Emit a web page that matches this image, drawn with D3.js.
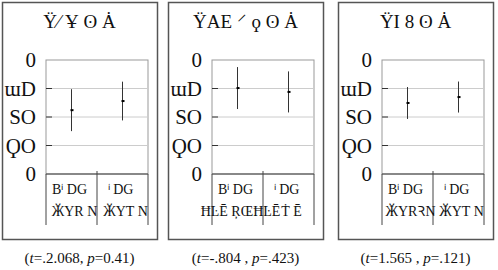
<!DOCTYPE html>
<html>
<head>
<style>
  body { margin: 0; background: #fff; }
  text { font-family: "Liberation Serif", serif; fill: #111; }
</style>
</head>
<body>
<svg id="chart"></svg>
<script src="https://cdn.jsdelivr.net/npm/d3@7"></script>
<script>
  const WIDTH = 498
  const HEIGHT = 270

  // data
  const titles = ["Ÿ⁄ Ұ ʘ Ȧ", "ŸΑE ⸍ ϙ ʘ Ȧ", "ŸI 8 ʘ Ȧ"]
  const groupTop = ["Bⁱ DG", "ⁱ DG"]
  const groupBottom = [["ӁYR N", "ӁYT N"], ["ĦĿĒ ŖŒĦĿĒ", "Ṫ Ē"], ["ӁYRꝚN", "ӁYT N"]]
  const yTicks = [0, 25, 50, 75, 100]
  const yTickLabels = ["0", "ϘO", "SO", "ɯD", "0"]
  const means = [[56, 64], [75.4, 72], [62.3, 67.5]]
  const errs = [[18.4, 17], [18.4, 18], [14, 13.6]]
  const stats = [["2.068", "0.41", "."], ["-.804 ", ".423", ""], ["1.565 ", ".121", ""]]

  const svg = d3.select('#chart').attr('width', WIDTH).attr('height', HEIGHT)

  const boxX = [2, 168, 338]
  const boxW = 155
  const plotL = 44, plotW = 102
  const plotTop = 60, plotBottom = 174

  const y = d3.scaleLinear().domain([0, 100]).range([plotBottom, plotTop])

  titles.forEach(function(title, i) {
    let g = svg.append('g').attr('transform', 'translate(' + boxX[i] + ',0)')

    // outer frame
    g.append('rect')
      .attr('x', 0.5).attr('y', 2.5)
      .attr('width', boxW).attr('height', 237)
      .attr('fill', 'none').attr('stroke', '#555').attr('stroke-width', 1.5)

    g.append('text')
      .attr('x', boxW / 2).attr('y', 28)
      .attr('text-anchor', 'middle')
      .style('font-size', '19px')
      .text(title)

    let x = d3.scaleBand().domain([0, 1]).range([plotL, plotL + plotW])

    // plot frame and grid
    g.append('rect')
      .attr('x', plotL).attr('y', plotTop)
      .attr('width', plotW).attr('height', plotBottom - plotTop)
      .attr('fill', 'none').attr('stroke', '#999')
    g.selectAll('.grid')
      .data(yTicks.slice(1, 4))
      .enter().append('line')
      .attr('x1', plotL).attr('x2', plotL + plotW)
      .attr('y1', d => y(d)).attr('y2', d => y(d))
      .attr('stroke', '#ccc')
    g.selectAll('.tick')
      .data(yTicks.slice(1, 4))
      .enter().append('line')
      .attr('x1', plotL).attr('x2', plotL + 6)
      .attr('y1', d => y(d)).attr('y2', d => y(d))
      .attr('stroke', '#333')
    g.selectAll('.ylab')
      .data(yTicks)
      .enter().append('text')
      .attr('x', 34).attr('y', d => y(d) + 7)
      .attr('text-anchor', 'end')
      .style('font-size', '21px')
      .text((d, k) => yTickLabels[k])

    // x axis + category separators
    g.append('line')
      .attr('x1', plotL).attr('x2', plotL + plotW)
      .attr('y1', plotBottom).attr('y2', plotBottom)
      .attr('stroke', '#444')
    g.selectAll('.sep')
      .data([0, 1, 2])
      .enter().append('line')
      .attr('x1', d => plotL + d * plotW / 2).attr('x2', d => plotL + d * plotW / 2)
      .attr('y1', d => d == 1 ? plotBottom - 3 : plotBottom)
      .attr('y2', 225)
      .attr('stroke', '#444')

    g.selectAll('.cat1')
      .data(groupTop)
      .enter().append('text')
      .attr('x', (d, k) => x(k) + x.bandwidth() / 2 - 2)
      .attr('y', 194)
      .attr('text-anchor', 'middle')
      .style('font-size', '14px')
      .text(d => d)
    g.selectAll('.cat2')
      .data(groupBottom[i])
      .enter().append('text')
      .attr('x', (d, k) => x(k) + x.bandwidth() / 2 + 3)
      .attr('y', 216)
      .attr('text-anchor', 'middle')
      .style('font-size', '14px')
      .text(d => d)

    // error bars and means
    g.selectAll('.err')
      .data(means[i])
      .enter().append('line')
      .attr('x1', (d, k) => x(k) + x.bandwidth() / 2)
      .attr('x2', (d, k) => x(k) + x.bandwidth() / 2)
      .attr('y1', (d, k) => y(d + errs[i][k]))
      .attr('y2', (d, k) => y(d - errs[i][k]))
      .attr('stroke', '#333')
    g.selectAll('.mean')
      .data(means[i])
      .enter().append('rect')
      .attr('x', (d, k) => x(k) + x.bandwidth() / 2 - 1)
      .attr('y', d => y(d) - 1)
      .attr('width', 3).attr('height', 2)
      .attr('fill', '#000')

    // test statistic under the box
    let st = g.append('text')
      .attr('x', boxW / 2).attr('y', 263)
      .attr('text-anchor', 'middle')
      .style('font-size', '15px')
    st.append('tspan').text('(')
    st.append('tspan').style('font-style', 'italic').text('t')
    st.append('tspan').text('=' + stats[i][2] + stats[i][0] + ', ')
    st.append('tspan').style('font-style', 'italic').text('p')
    st.append('tspan').text('=' + stats[i][1] + ')')
  })
</script>
</body>
</html>
